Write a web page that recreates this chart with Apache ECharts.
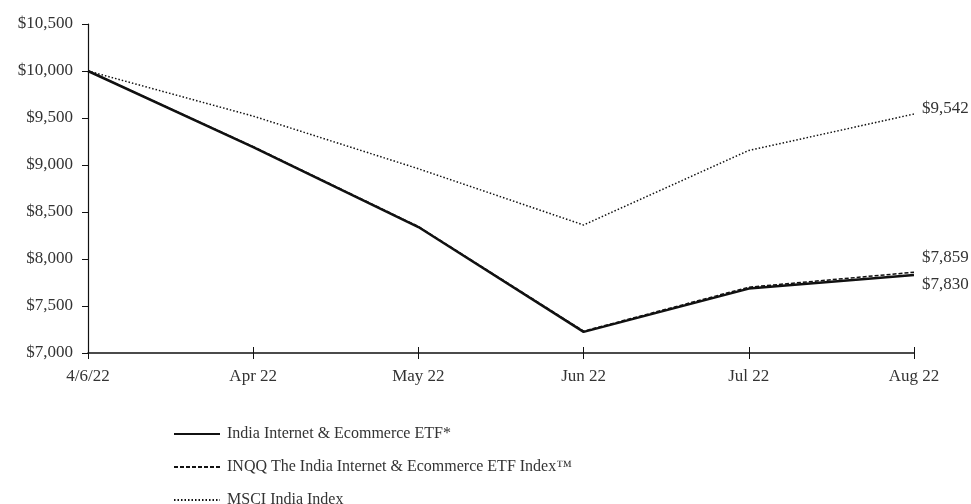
<!DOCTYPE html>
<html>
<head>
<meta charset="utf-8">
<script src="https://cdn.jsdelivr.net/npm/echarts@6/dist/echarts.min.js"></script>
<style>
  html, body { margin: 0; padding: 0; background: #fff; }
  #main { width: 971px; height: 504px; }
</style>
</head>
<body>
<div id="main"></div>
<script>
// growth of $10,000
var categories = ['4/6/22', 'Apr 22', 'May 22', 'Jun 22', 'Jul 22', 'Aug 22'];
var etfValues = [10000, 9190, 8340, 7225, 7685, 7830];
var indexValues = [10000, 9195, 8345, 7232, 7700, 7859];
var msciValues = [10000, 9520, 8960, 8362, 9155, 9542];
var seriesNames = [
    'India Internet & Ecommerce ETF*',
    'INQQ The India Internet & Ecommerce ETF Index\u2122',
    'MSCI India Index'
];

var fontFam = '"Liberation Serif", "DejaVu Serif", serif';
var ink = '#111';

function money(v) {
    return '$' + v.toLocaleString('en-US');
}

function makeEndLabel(offsetY) {
    return {
        show: true,
        formatter: function (p) { return money(p.value); },
        fontFamily: fontFam,
        fontSize: 17,
        color: '#333',
        distance: 8,
        offset: [0, offsetY]
    };
}

var myChart = echarts.init(document.getElementById('main'));

var option = {
    animation: false,
    textStyle: { fontFamily: fontFam },
    grid: { left: 88, right: 57, top: 24, bottom: 151 },
    legend: {
        orient: 'vertical',
        left: 168,
        top: 421,
        height: 120,
        itemWidth: 46,
        itemHeight: 14,
        itemGap: 17,
        itemStyle: { opacity: 0 },
        textStyle: { fontFamily: fontFam, fontSize: 16, color: '#333', padding: [0, 0, 0, 2] },
        data: seriesNames
    },
    xAxis: [
        {
            type: 'category',
            boundaryGap: false,
            data: categories,
            axisLine: { lineStyle: { color: ink, width: 1.5 } },
            axisTick: { show: true, length: 6, lineStyle: { color: ink } },
            axisLabel: { fontFamily: fontFam, fontSize: 17, color: '#333', margin: 15 }
        },
        {
            type: 'category',
            boundaryGap: false,
            position: 'bottom',
            data: categories,
            axisLine: { show: false },
            axisTick: { show: true, inside: true, length: 6, lineStyle: { color: ink } },
            axisLabel: { show: false }
        }
    ],
    yAxis: {
        type: 'value',
        min: 7000,
        max: 10500,
        interval: 500,
        axisLine: { show: true, lineStyle: { color: ink, width: 1.2 } },
        axisTick: { show: true, length: 6, lineStyle: { color: ink } },
        splitLine: { show: false },
        axisLabel: {
            fontFamily: fontFam,
            fontSize: 17,
            color: '#333',
            margin: 15,
            formatter: function (v) { return money(v); }
        }
    },
    series: [
        {
            name: seriesNames[0],
            type: 'line',
            data: etfValues,
            symbol: 'none',
            z: 4,
            lineStyle: { color: ink, width: 2.5 },
            itemStyle: { color: ink },
            endLabel: makeEndLabel(10)
        },
        {
            name: seriesNames[1],
            type: 'line',
            data: indexValues,
            symbol: 'none',
            z: 3,
            lineStyle: { color: ink, width: 1.5, type: [4, 2] },
            itemStyle: { color: ink },
            endLabel: makeEndLabel(-15)
        },
        {
            name: seriesNames[2],
            type: 'line',
            data: msciValues,
            symbol: 'none',
            z: 2,
            lineStyle: { color: ink, width: 1.5, type: [1.5, 2] },
            itemStyle: { color: ink },
            endLabel: makeEndLabel(-6)
        }
    ]
};
myChart.setOption(option);
</script>
</body>
</html>
